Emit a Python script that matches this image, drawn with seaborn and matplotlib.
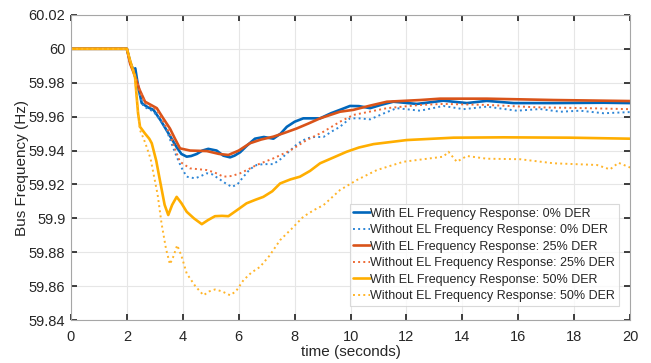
import matplotlib
matplotlib.use("Agg")
import matplotlib.pyplot as plt
import seaborn as sns
import numpy as np

sns.set_theme(style="white")
plt.rcParams['font.family'] = ['Liberation Sans', 'DejaVu Sans']

labels = [
    "With EL Frequency Response: 0% DER",
    "Without EL Frequency Response: 0% DER",
    "With EL Frequency Response: 25% DER",
    "Without EL Frequency Response: 25% DER",
    "With EL Frequency Response: 50% DER",
    "Without EL Frequency Response: 50% DER",
]

t_with0 = [0, 2.0, 2.12, 2.23, 2.3, 2.4, 2.53, 2.75, 2.95, 3.2, 3.42, 3.6, 3.78, 3.95, 4.14, 4.3,
           4.5, 4.7, 4.91, 5.21, 5.45, 5.69, 5.85, 6.05, 6.3, 6.58, 6.9, 7.24, 7.5, 7.72, 8.0,
           8.31, 8.6, 8.91, 9.3, 9.62, 9.98, 10.3, 10.7, 11.1, 11.53, 12.37, 13.32, 14.16,
           14.87, 15.83, 17.26, 19.05, 20]
f_with0 = [60, 60, 59.992, 59.9875, 59.9885, 59.978, 59.968, 59.9655, 59.964, 59.958, 59.952,
           59.947, 59.942, 59.938, 59.9364, 59.9368, 59.938, 59.940, 59.941, 59.940, 59.937,
           59.936, 59.937, 59.939, 59.943, 59.947, 59.948, 59.947, 59.950, 59.954, 59.957,
           59.959, 59.959, 59.959, 59.962, 59.964, 59.9663, 59.9662, 59.965, 59.967, 59.9688,
           59.9675, 59.9694, 59.968, 59.9693, 59.968, 59.968, 59.9682, 59.968]

t_wo0 = [0, 2.0, 2.12, 2.23, 2.4, 2.59, 2.95, 3.2, 3.42, 3.6, 3.78, 3.95, 4.14, 4.44, 4.65,
         4.86, 5.05, 5.27, 5.5, 5.75, 5.95, 6.17, 6.4, 6.64, 6.9, 7.24, 7.5, 7.84, 8.1, 8.43,
         8.7, 9.03, 9.3, 9.62, 9.98, 10.3, 10.7, 11.2, 11.65, 12.49, 13.32, 14.04, 14.87,
         15.95, 16.78, 17.5, 18.21, 19.05, 20]
f_wo0 = [60, 60, 59.992, 59.988, 59.976, 59.966, 59.963, 59.958, 59.952, 59.944, 59.9364,
         59.930, 59.9246, 59.9236, 59.925, 59.9266, 59.926, 59.9236, 59.921, 59.9186, 59.920,
         59.9246, 59.929, 59.9315, 59.932, 59.932, 59.935, 59.940, 59.944, 59.9472, 59.948,
         59.948, 59.951, 59.954, 59.959, 59.959, 59.9584, 59.962, 59.965, 59.9635, 59.9663,
         59.9644, 59.9659, 59.9635, 59.9645, 59.9629, 59.9635, 59.962, 59.9627]

t_with25 = [0, 2.0, 2.12, 2.23, 2.45, 2.65, 2.85, 3.07, 3.3, 3.54, 3.72, 3.9, 4.26, 4.86, 5.3,
            5.63, 6.0, 6.4, 6.8, 7.24, 7.65, 8.07, 8.5, 8.91, 9.62, 10.1, 10.7, 11.3, 12.49,
            13.2, 14.87, 17.26, 20]
f_with25 = [60, 60, 59.991, 59.9865, 59.976, 59.9688, 59.967, 59.965, 59.959, 59.953, 59.947,
            59.9413, 59.940, 59.9397, 59.938, 59.9374, 59.940, 59.9443, 59.9465, 59.9482,
            59.9505, 59.953, 59.956, 59.959, 59.9629, 59.964, 59.9665, 59.9688, 59.9698,
            59.9706, 59.9706, 59.9698, 59.9692]

t_wo25 = [0, 2.0, 2.12, 2.23, 2.45, 2.65, 2.85, 3.07, 3.3, 3.54, 3.72, 3.9, 4.26, 4.86, 5.15,
          5.45, 5.75, 6.05, 6.35, 6.64, 7.24, 7.84, 8.43, 9.03, 9.62, 10.1, 10.7, 11.3, 12.49,
          13.32, 14.87, 16.66, 18.45, 20]
f_wo25 = [60, 60, 59.991, 59.988, 59.976, 59.968, 59.966, 59.964, 59.957, 59.950, 59.941,
          59.9334, 59.9295, 59.9285, 59.927, 59.9246, 59.925, 59.9266, 59.929, 59.9315,
          59.9354, 59.940, 59.9462, 59.9511, 59.957, 59.961, 59.963, 59.965, 59.9669,
          59.9675, 59.9669, 59.9655, 59.965, 59.9644]

t_with50 = [0, 2.0, 2.11, 2.29, 2.4, 2.47, 2.65, 2.8, 2.89, 3.05, 3.18, 3.35, 3.48, 3.62, 3.78,
            3.95, 4.14, 4.4, 4.68, 4.9, 5.15, 5.4, 5.63, 5.95, 6.28, 6.6, 6.88, 7.2, 7.48,
            7.85, 8.19, 8.55, 8.91, 9.4, 9.86, 10.3, 10.82, 12.01, 13.68, 15.47, 17.85, 20]
f_with50 = [60, 60, 59.9934, 59.9836, 59.962, 59.954, 59.950, 59.947, 59.9443, 59.934, 59.9226,
            59.908, 59.902, 59.908, 59.9127, 59.909, 59.9039, 59.900, 59.8966, 59.899, 59.9013,
            59.9015, 59.9013, 59.905, 59.9089, 59.911, 59.9127, 59.916, 59.9206, 59.923,
            59.9246, 59.928, 59.9325, 59.936, 59.9393, 59.9418, 59.9438, 59.9462, 59.9476,
            59.9478, 59.9476, 59.947]

t_wo50 = [0, 2.0, 2.11, 2.29, 2.4, 2.47, 2.6, 2.71, 2.85, 2.95, 3.1, 3.24, 3.4, 3.54, 3.65,
          3.8, 3.95, 4.14, 4.45, 4.74, 4.95, 5.15, 5.4, 5.69, 5.9, 6.17, 6.45, 6.76, 7.1,
          7.48, 7.9, 8.31, 8.7, 9.03, 9.62, 10.22, 10.94, 11.89, 13.32, 13.5, 13.8, 14.16,
          14.87, 16.06, 17.26, 18.81, 19.28, 19.58, 20]
f_wo50 = [60, 60, 59.9934, 59.9836, 59.962, 59.952, 59.947, 59.942, 59.935, 59.9266, 59.914,
          59.897, 59.882, 59.873, 59.877, 59.8842, 59.878, 59.8675, 59.860, 59.8547, 59.857,
          59.8581, 59.857, 59.8547, 59.857, 59.8636, 59.868, 59.8714, 59.878, 59.8872,
          59.894, 59.901, 59.905, 59.9078, 59.9167, 59.9226, 59.9285, 59.9334, 59.9364,
          59.9393, 59.9334, 59.9368, 59.9352, 59.9349, 59.9325, 59.9315, 59.9289, 59.9328,
          59.930]

series = [
    (t_with0, f_with0, "#0066BB", "-", 1.9),
    (t_wo0, f_wo0, "#2E86D6", ":", 1.4),
    (t_with25, f_with25, "#D95319", "-", 1.9),
    (t_wo25, f_wo25, "#EE6A35", ":", 1.4),
    (t_with50, f_with50, "#FFAE00", "-", 1.9),
    (t_wo50, f_wo50, "#FFB52A", ":", 1.4),
]

fig = plt.figure(figsize=(6.51, 3.63), dpi=100)
ax = fig.add_axes([0.109, 0.118, 0.859, 0.841])

for (t, f, c, ls, lw), lab in zip(series, labels):
    sns.lineplot(x=t, y=f, ax=ax, color=c, linestyle=ls, linewidth=lw, label=lab,
                 sort=False, estimator=None)

ax.set_xlim(0, 20)
ax.set_ylim(59.84, 60.02)
ax.set_xticks(np.arange(0, 21, 2))
yt = [59.84, 59.86, 59.88, 59.90, 59.92, 59.94, 59.96, 59.98, 60.0, 60.02]
ax.set_yticks(yt)
ax.set_yticklabels(["%g" % round(v, 2) for v in yt])
ax.grid(True, color="#E6E6E6", linewidth=0.8)
ax.tick_params(axis="y", direction="in", length=4, labelsize=10.5, colors="#262626",
               left=True, right=True, pad=4)
ax.tick_params(axis="x", direction="in", length=4, labelsize=10.5, colors="#262626",
               top=True, bottom=True, pad=7)
for s in ax.spines.values():
    s.set_color("#A6A6A6")
    s.set_linewidth(0.8)
ax.set_xlabel("time (seconds)", fontsize=11, color="#262626", labelpad=1)
ax.set_ylabel("Bus Frequency (Hz)", fontsize=11, color="#262626", labelpad=0)

leg = ax.legend(loc="lower right", bbox_to_anchor=(0.980, 0.046), fontsize=9,
                handlelength=1.3, handletextpad=0.05, borderpad=0.3, labelspacing=0.36,
                frameon=True, fancybox=False, borderaxespad=0)
leg.get_frame().set_edgecolor("#D0D0D0")
leg.get_frame().set_linewidth(0.8)

fig.savefig("out.png", dpi=100)
